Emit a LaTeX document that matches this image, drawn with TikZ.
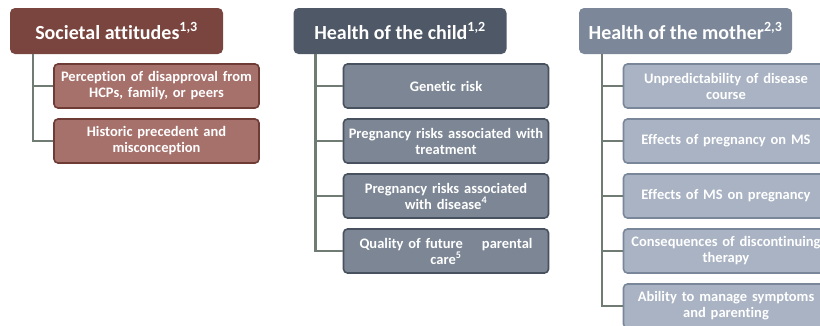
\documentclass[tikz,border=0pt]{standalone}
\usepackage{fontspec}
\setmainfont{Carlito}[Ligatures=NoCommon]
\usepackage{tikz}
\usepackage{xcolor}
\usetikzlibrary{calc, positioning}

\definecolor{socdark}{HTML}{7A453E}
\definecolor{soclight}{HTML}{A6706B}
\definecolor{socedge}{HTML}{6E3B35}
\definecolor{chddark}{HTML}{4E5866}
\definecolor{chdlight}{HTML}{7C8695}
\definecolor{chdedge}{HTML}{48525F}
\definecolor{motdark}{HTML}{7C8899}
\definecolor{motlight}{HTML}{A9B3C3}
\definecolor{motedge}{HTML}{7A869A}
\definecolor{trunkcol}{HTML}{6F7B73}

\begin{document}
\begin{tikzpicture}[x=1pt, y=-1pt,
    head/.style={
      rectangle,
      rounded corners=5pt,
      minimum width=213pt,
      minimum height=46pt,
      text=white,
      font=\bfseries\fontsize{20}{22}\selectfont
    },
    item/.style={
      rectangle,
      rounded corners=4pt,
      line width=1.6pt,
      minimum width=205pt,
      minimum height=44pt,
      inner xsep=1pt,
      text width=203pt,
      align=center,
      text=white,
      font=\bfseries\fontsize{14.5}{16}\selectfont
    },
    trunk/.style={draw=trunkcol, line width=2.6pt}]
  \useasboundingbox (0,0) rectangle (820,325);
  \clip (0,0) rectangle (820,325);

  % headers
  \node[head, fill=socdark] (soc) at (116.5,31) {Societal attitudes\textsuperscript{1,3}};
  \node[head, fill=chddark] (chd) at (400,31) {Health of the child\textsuperscript{1,2}};
  \node[head, fill=motdark] (mot) at (685.5,31) {Health of the mother\textsuperscript{2,3}};

  % trunks
  \coordinate (soct) at ($(soc.south west)+(23,0)$);
  \coordinate (chdt) at ($(chd.south west)+(22,0)$);
  \coordinate (mott) at ($(mot.south west)+(23,0)$);

  % societal attitudes
  \node[item, fill=soclight, draw=socedge] (soc1) at (156.5,86) {Perception of disapproval from\\HCPs, family, or peers};
  \node[item, fill=soclight, draw=socedge] (soc2) at (156.5,141) {Historic precedent and\\misconception};
  \draw[trunk] (soct) |- (soc2.west);
  \draw[trunk] (soc1.west) -| (soct);

  % health of the child
  \node[item, fill=chdlight, draw=chdedge] (chd1) at (446,86) {Genetic risk};
  \node[item, fill=chdlight, draw=chdedge] (chd2) at (446,141) {Pregnancy risks associated with\\treatment};
  \node[item, fill=chdlight, draw=chdedge] (chd3) at (446,196) {Pregnancy risks associated\\with disease\textsuperscript{4}};
  \node[item, fill=chdlight, draw=chdedge] (chd4) at (446,251) {Quality of future\hspace{19pt}parental\\care\textsuperscript{5}};
  \draw[trunk] (chdt) |- (chd4.west);
  \foreach \i in {1,2,3}
    \draw[trunk] (chd\i.west) -| (chdt);

  % health of the mother
  \node[item, fill=motlight, draw=motedge] (mot1) at (726,86) {Unpredictability of disease\\course};
  \node[item, fill=motlight, draw=motedge] (mot2) at (726,141) {Effects of pregnancy on MS};
  \node[item, fill=motlight, draw=motedge] (mot3) at (726,196) {Effects of MS on pregnancy};
  \node[item, fill=motlight, draw=motedge] (mot4) at (726,251) {Consequences of discontinuing\\therapy};
  \node[item, fill=motlight, draw=motedge] (mot5) at (726,306) {Ability to manage symptoms\\and parenting};
  \draw[trunk] (mott) |- (mot5.west);
  \foreach \i in {1,...,4}
    \draw[trunk] (mot\i.west) -| (mott);
\end{tikzpicture}
\end{document}
